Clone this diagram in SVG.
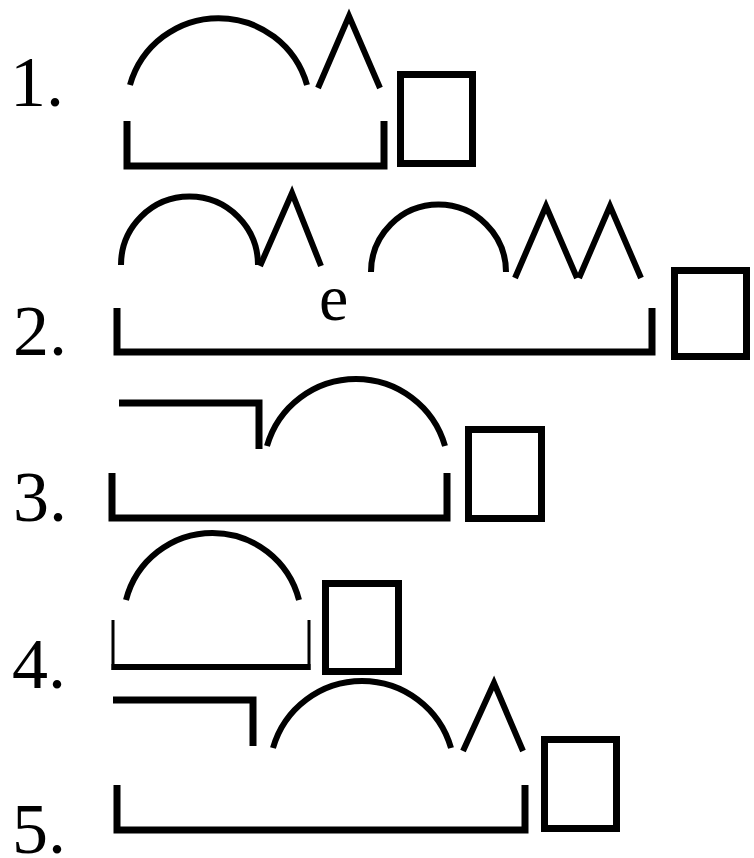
<svg xmlns="http://www.w3.org/2000/svg" width="754" height="858" viewBox="0 0 754 858">
<style>
.num{font-family:"Liberation Serif","Times New Roman",serif;font-size:72px;fill:#000}
.lbl{font-family:"Liberation Serif","Times New Roman",serif;font-size:66px;fill:#000}
.arc,.lam{fill:none;stroke:#000;stroke-width:6;stroke-linejoin:miter;stroke-miterlimit:10}
.br{fill:none;stroke:#000;stroke-width:7;stroke-linejoin:miter}
.thin{fill:none;stroke:#000;stroke-width:3}
.sq{fill:none;stroke:#000;stroke-width:7}
</style>
<rect width="754" height="858" fill="#fff"/>
<g id="row1">
<text class="num" x="10" y="106">1.</text>
<path class="arc" d="M130,85 A92,92 0 0 1 307,85"/>
<path class="lam" d="M318,88 L349,16 L380,88"/>
<path class="br" d="M127,121 V166 H384 V121"/>
<rect class="sq" x="400.5" y="74.5" width="72" height="89"/>
</g>
<g id="row2">
<text class="num" x="13" y="355">2.</text>
<path class="arc" d="M121,265 A68.5,68.5 0 0 1 258,265"/>
<path class="lam" d="M260,266 L292,193 L321,266"/>
<path class="arc" d="M371,272 A67.5,67.5 0 0 1 506,272"/>
<path class="lam" d="M515,278 L546,206 L577,278"/>
<path class="lam" d="M579,278 L610,206 L641,278"/>
<text class="lbl" x="319" y="320">e</text>
<path class="br" d="M117,308 V352 H652 V308"/>
<rect class="sq" x="674.5" y="270.5" width="72" height="86"/>
</g>
<g id="row3">
<text class="num" x="13" y="521">3.</text>
<path class="br" d="M119,403 H259 V449"/>
<path class="arc" d="M267,446 A92.6,92.6 0 0 1 445,446"/>
<path class="br" d="M112,473 V518 H447 V473"/>
<rect class="sq" x="468.5" y="429.5" width="73" height="89"/>
</g>
<g id="row4">
<text class="num" x="12" y="688">4.</text>
<path class="arc" d="M126,600 A89.3,89.3 0 0 1 299,600"/>
<path class="thin" d="M113,620 V670 M309,620 V670"/>
<path class="br" style="stroke-width:6" d="M111.5,667 H310.5"/>
<rect class="sq" x="325.5" y="583.5" width="73" height="88"/>
</g>
<g id="row5">
<text class="num" x="12" y="853">5.</text>
<path class="br" d="M113,700 H253 V746"/>
<path class="arc" d="M273,748 A92.6,92.6 0 0 1 451,748"/>
<path class="lam" d="M463,751 L494,683 L523,751"/>
<path class="br" d="M117,785 V830 H525 V785"/>
<rect class="sq" x="544.5" y="739.5" width="72" height="89"/>
</g>
</svg>
